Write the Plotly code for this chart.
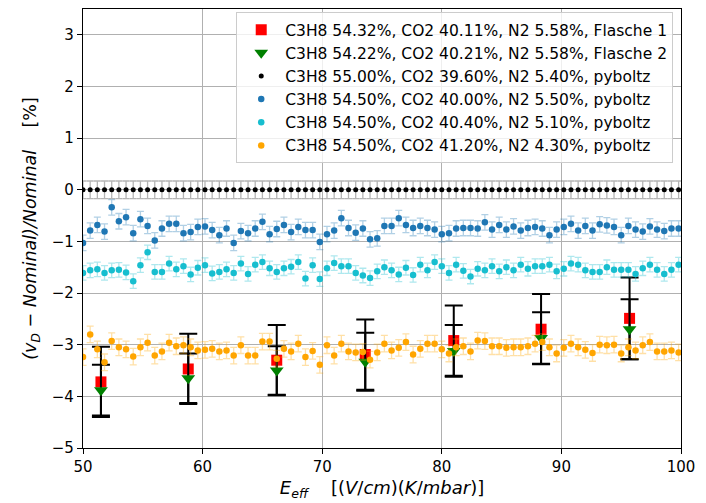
import plotly.graph_objects as go

# --- data -------------------------------------------------------------
E_pyboltz = [50.0, 50.6, 51.2, 51.8, 52.4, 53.0, 53.6, 54.2, 54.8, 55.4, 56.0, 56.6,
             57.2, 57.8, 58.4, 59.0, 59.6, 60.2, 60.8, 61.4, 62.0, 62.6, 63.2, 63.8,
             64.4, 65.0, 65.6, 66.2, 66.8, 67.4, 68.0, 68.6, 69.2, 69.8, 70.4, 71.0,
             71.6, 72.2, 72.8, 73.4, 74.0, 74.6, 75.2, 75.8, 76.4, 77.0, 77.6, 78.2,
             78.8, 79.4, 80.0, 80.6, 81.2, 81.8, 82.4, 83.0, 83.6, 84.2, 84.8, 85.4,
             86.0, 86.6, 87.2, 87.8, 88.4, 89.0, 89.6, 90.2, 90.8, 91.4, 92.0, 92.6,
             93.2, 93.8, 94.4, 95.0, 95.6, 96.2, 96.8, 97.4, 98.0, 98.6, 99.2, 99.8]

dev_black = [0.0, 0.0, 0.0, 0.0, 0.0, 0.0, 0.0, 0.0, 0.0, 0.0, 0.0, 0.0,
             0.0, 0.0, 0.0, 0.0, 0.0, 0.0, 0.0, 0.0, 0.0, 0.0, 0.0, 0.0,
             0.0, 0.0, 0.0, 0.0, 0.0, 0.0, 0.0, 0.0, 0.0, 0.0, 0.0, 0.0,
             0.0, 0.0, 0.0, 0.0, 0.0, 0.0, 0.0, 0.0, 0.0, 0.0, 0.0, 0.0,
             0.0, 0.0, 0.0, 0.0, 0.0, 0.0, 0.0, 0.0, 0.0, 0.0, 0.0, 0.0,
             0.0, 0.0, 0.0, 0.0, 0.0, 0.0, 0.0, 0.0, 0.0, 0.0, 0.0, 0.0,
             0.0, 0.0, 0.0, 0.0, 0.0, 0.0, 0.0, 0.0, 0.0, 0.0, 0.0, 0.0]

dev_blue = [-1.03, -0.79, -0.68, -0.81, -0.34, -0.61, -0.53, -0.84, -0.57, -0.70, -0.98,
            -0.75, -0.66, -0.66, -0.84, -0.82, -0.72, -0.71, -0.78, -0.88, -0.75,
            -1.03, -0.80, -0.84, -0.75, -0.62, -0.86, -0.76, -0.68, -0.82, -0.72, -0.78,
            -0.78, -1.01, -0.86, -0.79, -0.55, -0.74, -0.83, -0.75, -0.96, -0.94,
            -0.70, -0.70, -0.55, -0.68, -0.74, -0.70, -0.74, -0.77, -0.86, -0.84, -0.75,
            -0.74, -0.74, -0.75, -0.63, -0.77, -0.68, -0.77, -0.71, -0.79, -0.74,
            -0.72, -0.75, -0.88, -0.77, -0.72, -0.66, -0.79, -0.70, -0.79, -0.67, -0.69,
            -0.72, -0.88, -0.70, -0.77, -0.81, -0.71, -0.77, -0.80, -0.75, -0.75]

dev_cyan = [-1.61, -1.56, -1.54, -1.61, -1.56, -1.55, -1.60, -1.77, -1.46, -1.21, -1.59,
            -1.59, -1.43, -1.54, -1.48, -1.64, -1.51, -1.46, -1.62, -1.59, -1.54, -1.61,
            -1.43, -1.63, -1.45, -1.40, -1.52, -1.59, -1.52, -1.49, -1.40, -1.72, -1.46,
            -1.73, -1.52, -1.42, -1.48, -1.48, -1.61, -1.66, -1.71, -1.58, -1.50,
            -1.56, -1.64, -1.51, -1.65, -1.45, -1.56, -1.40, -1.48, -1.61, -1.45, -1.57,
            -1.68, -1.53, -1.56, -1.48, -1.58, -1.50, -1.56, -1.45, -1.53, -1.48,
            -1.48, -1.45, -1.58, -1.53, -1.43, -1.45, -1.56, -1.59, -1.59, -1.50, -1.55,
            -1.55, -1.55, -1.63, -1.52, -1.45, -1.55, -1.63, -1.55, -1.45]

dev_orange = [-3.24, -2.80, -3.09, -3.34, -2.93, -3.05, -3.09, -3.23, -3.05, -2.96, -3.21,
              -3.13, -2.96, -3.03, -3.01, -3.05, -3.11, -3.10, -3.08, -3.13, -3.11, -3.21,
              -3.01, -3.21, -3.21, -2.94, -2.94, -3.27, -3.08, -3.13, -2.98, -3.24, -3.12,
              -3.39, -3.01, -3.21, -2.98, -3.13, -3.15, -3.14, -3.29, -3.15, -2.98,
              -3.11, -3.06, -2.95, -3.19, -3.08, -2.98, -2.98, -3.09, -3.17, -3.05, -3.03,
              -3.13, -2.92, -2.93, -3.03, -3.03, -3.06, -3.05, -3.05, -3.03, -2.98,
              -2.95, -3.05, -3.17, -3.06, -2.98, -3.05, -3.10, -3.16, -3.00, -3.01, -3.00,
              -3.17, -3.05, -3.11, -3.01, -2.95, -3.13, -3.13, -3.11, -3.15]

err_black = 0.17
err_blue = 0.15
err_cyan = 0.14
err_orange = 0.16

E_meas = [51.5, 58.8, 66.2, 73.6, 81.0, 88.3, 95.7]
dev_flasche1 = [-3.72, -3.47, -3.30, -3.19, -2.92, -2.70, -2.49]
err_flasche1 = [0.68, 0.68, 0.68, 0.68, 0.68, 0.68, 0.79]
dev_flasche2 = [-3.88, -3.65, -3.50, -3.33, -3.12, -2.87, -2.70]
err_flasche2 = [0.49, 0.48, 0.47, 0.56, 0.50, 0.50, 0.58]

labels = [
    "C3H8 54.32%, CO2 40.11%, N2 5.58%, Flasche 1",
    "C3H8 54.22%, CO2 40.21%, N2 5.58%, Flasche 2",
    "C3H8 55.00%, CO2 39.60%, N2 5.40%, pyboltz",
    "C3H8 54.50%, CO2 40.00%, N2 5.50%, pyboltz",
    "C3H8 54.50%, CO2 40.40%, N2 5.10%, pyboltz",
    "C3H8 54.50%, CO2 41.20%, N2 4.30%, pyboltz",
]

x_ticks = [50, 60, 70, 80, 90, 100]
y_ticks = [-5, -4, -3, -2, -1, 0, 1, 2, 3]

# --- figure -----------------------------------------------------------
FONT = "DejaVu Sans"
fig = go.Figure()

fig.add_trace(go.Scatter(
    x=E_meas, y=dev_flasche1, mode="markers", name=labels[0], legendgroup="a",
    marker=dict(symbol="square", size=11, color="red"),
    error_y=dict(type="data", array=err_flasche1, color="black", thickness=2, width=9)))
fig.add_trace(go.Scatter(
    x=E_meas, y=dev_flasche2, mode="markers", name=labels[1], legendgroup="b",
    marker=dict(symbol="triangle-down", size=12, color="green"),
    error_y=dict(type="data", array=err_flasche2, color="black", thickness=2, width=9)))

py_series = [
    (dev_black, err_black, "black", "rgba(120,120,120,0.55)", labels[2], "c", 5),
    (dev_blue, err_blue, "#1f77b4", "rgba(31,119,180,0.35)", labels[3], "d", 6.5),
    (dev_cyan, err_cyan, "#17becf", "rgba(23,190,207,0.35)", labels[4], "e", 6.5),
    (dev_orange, err_orange, "orange", "rgba(255,165,0,0.35)", labels[5], "f", 6.5),
]
for vals, err, col, ecol, name, grp, sz in py_series:
    fig.add_trace(go.Scatter(
        x=E_pyboltz, y=vals, mode="markers", name=name, legendgroup=grp,
        marker=dict(symbol="circle", size=sz, color=col),
        error_y=dict(type="constant", value=err, color=ecol, thickness=1.3, width=3.5)))

axis_common = dict(
    showline=True, linecolor="black", linewidth=1.2, mirror=True,
    ticks="outside", ticklen=5, tickwidth=1.2, tickcolor="black",
    showgrid=True, gridcolor="#b0b0b0", gridwidth=1, zeroline=False,
    tickfont=dict(family=FONT, size=15, color="black"),
)

fig.update_xaxes(range=[50, 100], tickvals=x_ticks, **axis_common,
                 title=dict(text="<i>E<sub>eff</sub></i>\u00a0\u00a0\u00a0\u00a0[(<i>V</i>/<i>cm</i>)(<i>K</i>/<i>mbar</i>)]",
                            font=dict(family=FONT, size=18, color="black"), standoff=6))
fig.update_yaxes(range=[-5, 3.5], tickvals=y_ticks, **axis_common,
                 title=dict(text="<i>(v<sub>D</sub> \u2212 Nominal)/Nominal</i>\u00a0\u00a0\u00a0\u00a0[%]",
                            font=dict(family=FONT, size=17.5, color="black"), standoff=10))

fig.update_layout(
    width=706, height=503,
    margin=dict(l=83, r=25, t=8, b=52),
    plot_bgcolor="white", paper_bgcolor="white",
    font=dict(family=FONT, color="black"),
    showlegend=True,
    legend=dict(x=0.987, y=0.993, xanchor="right", yanchor="top",
                bgcolor="rgba(255,255,255,0.8)", bordercolor="#cccccc", borderwidth=1,
                font=dict(family=FONT, size=15.5, color="black"),
                itemwidth=38, tracegroupgap=0, traceorder="normal"),
)

fig.write_html("out.html", config={"displayModeBar": False},
               post_script="document.body.style.margin='0';document.body.style.padding='0';")
